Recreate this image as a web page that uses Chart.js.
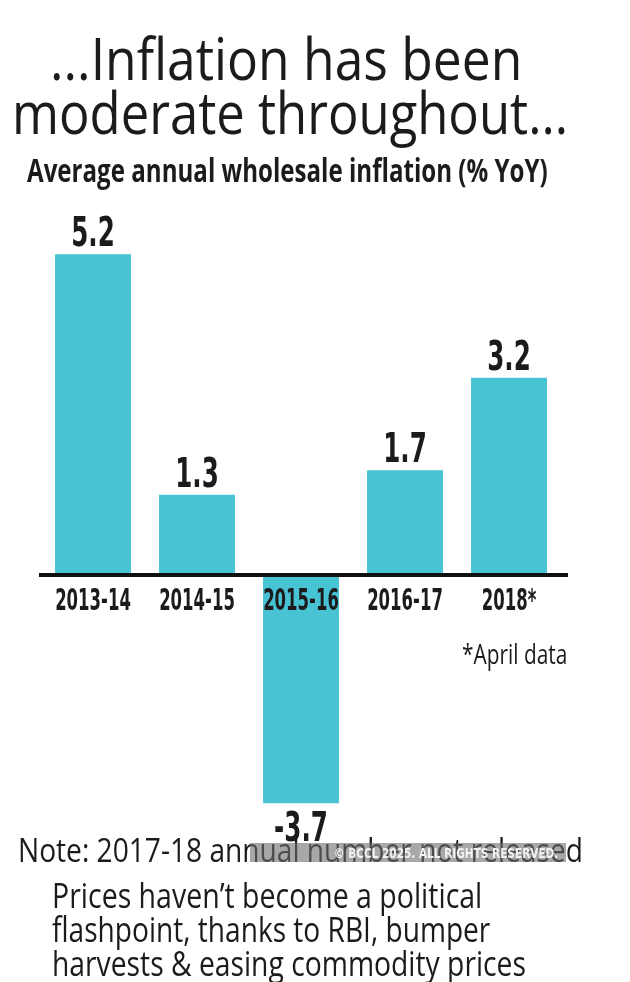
<!DOCTYPE html>
<html>
<head>
<meta charset="utf-8">
<script src="https://cdn.jsdelivr.net/npm/chart.js@4.4.0/dist/chart.umd.min.js"></script>
<style>
  html, body { margin: 0; padding: 0; background: #fff; }
  #wrap { position: relative; width: 630px; height: 982px; overflow: hidden; }
  canvas { position: absolute; left: 0; top: 0; }
  .txt { position: absolute; white-space: nowrap; color: #1c1a1b; line-height: 1; transform-origin: 0 0; font-family: 'Open Sans', 'Noto Sans', sans-serif; }
  #wm { position: absolute; left: 250px; top: 843px; width: 316px; height: 19px; background: rgba(110,110,110,0.6); }
  #wmText { color: #f2f2f2; font-weight: bold; font-size: 14px; font-family: 'DejaVu Sans', sans-serif; }
</style>
</head>
<body>
<div id="wrap">
  <canvas id="myChart" width="630" height="982"></canvas>

  <div class="txt" data-x="50" data-base="80" data-w="472" style="font-size:58px;font-weight:500">...Inflation has been</div>
  <div class="txt" data-x="12" data-base="134" data-w="556" style="font-size:58px;font-weight:500">moderate throughout...</div>
  <div class="txt" data-x="27" data-base="182" data-w="521" style="font-size:33px;font-weight:bold">Average annual wholesale inflation (% YoY)</div>

  <div class="txt" data-x="462" data-base="664" data-w="105" style="font-size:28px">*April data</div>

  <div class="txt" data-x="18" data-base="862" data-w="565" style="font-size:33px">Note: 2017-18 annual number not released</div>
  <div id="wm"></div>
  <div class="txt" id="wmText" data-x="334" data-base="858" data-w="224">© BCCL 2025. ALL RIGHTS RESERVED.</div>

  <div class="txt" data-x="52" data-base="908" data-w="430" style="font-size:34px">Prices haven’t become a political</div>
  <div class="txt" data-x="52" data-base="942" data-w="438" style="font-size:34px">flashpoint, thanks to RBI, bumper</div>
  <div class="txt" data-x="52" data-base="976" data-w="474" style="font-size:34px">harvests &amp; easing commodity prices</div>
</div>

<script>
const categories = ["2013-14", "2014-15", "2015-16", "2016-17", "2018*"];
const inflation = [5.2, 1.3, -3.7, 1.7, 3.2];
const valueLabels = ["5.2", "1.3", "-3.7", "1.7", "3.2"];

const barColor = "#47c3d4";
const inkColor = "#1c1a1b";

// squeeze text horizontally, the original uses a very condensed face
function drawSqueezed(ctx, text, x, y, sx) {
    ctx.save();
    ctx.translate(x, y);
    ctx.scale(sx, 1);
    ctx.fillText(text, 0, 0);
    ctx.restore();
}

const annotations = {
    id: "annotations",
    afterDatasetsDraw(chart) {
        const ctx = chart.ctx;
        const xScale = chart.scales.x;
        const yScale = chart.scales.y;
        const zeroY = yScale.getPixelForValue(0);

        // baseline
        ctx.save();
        ctx.strokeStyle = "#111";
        ctx.lineWidth = 4;
        ctx.beginPath();
        ctx.moveTo(39, zeroY);
        ctx.lineTo(568, zeroY);
        ctx.stroke();

        ctx.fillStyle = inkColor;
        ctx.textAlign = "center";
        ctx.textBaseline = "alphabetic";

        // category labels, drawn on top of the negative bar
        ctx.font = "bold 30px 'DejaVu Sans'";
        categories.forEach((c, i) => {
            const x = xScale.getPixelForValue(i);
            drawSqueezed(ctx, c, x, zeroY + 35, 0.55);
        });

        // value labels
        ctx.font = "bold 41px 'DejaVu Sans'";
        const meta = chart.getDatasetMeta(0);
        meta.data.forEach((bar, i) => {
            const v = inflation[i];
            const y = v >= 0 ? bar.y - 8 : bar.y + 38;
            drawSqueezed(ctx, valueLabels[i], bar.x, y, 0.6);
        });
        ctx.restore();
    }
};

new Chart(document.getElementById("myChart").getContext("2d"), {
    type: "bar",
    data: {
        labels: categories,
        datasets: [{
            data: inflation,
            backgroundColor: barColor,
            borderWidth: 0,
            barPercentage: 0.73,
            categoryPercentage: 1.0
        }]
    },
    options: {
        responsive: false,
        animation: false,
        layout: { padding: { left: 41, right: 69, top: 205, bottom: 148 } },
        plugins: { legend: { display: false }, tooltip: { enabled: false } },
        scales: {
            x: { display: false },
            y: { display: false, min: -4.2, max: 6.0 }
        }
    },
    plugins: [annotations]
});

// place html text lines by baseline and fit them to the widths in the original
function placeText() {
    document.querySelectorAll(".txt").forEach(el => {
        const probe = document.createElement("span");
        probe.style.cssText = "display:inline-block;width:0;height:0;";
        el.appendChild(probe);
        const baseOff = probe.offsetTop;
        el.removeChild(probe);
        const w = el.offsetWidth;
        const target = Number(el.dataset.w);
        el.style.left = el.dataset.x + "px";
        el.style.top = (Number(el.dataset.base) - baseOff) + "px";
        el.style.transform = "scaleX(" + (target / w) + ")";
    });
}
placeText();
</script>
</body>
</html>
